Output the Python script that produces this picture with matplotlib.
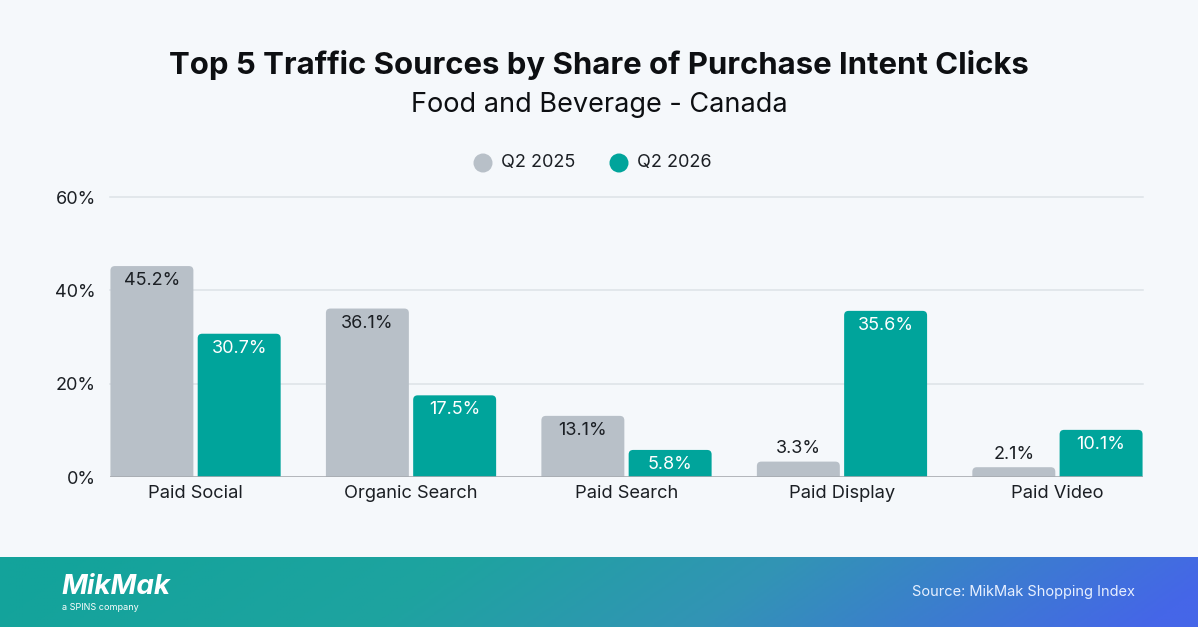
import matplotlib
matplotlib.use("Agg")
import matplotlib.pyplot as plt
import numpy as np
from matplotlib.patches import FancyBboxPatch, Circle
from matplotlib.colors import LinearSegmentedColormap

plt.rcParams['font.family'] = ['Inter', 'DejaVu Sans']

categories = ["Paid Social", "Organic Search", "Paid Search", "Paid Display", "Paid Video"]
q2_2025 = [45.2, 36.1, 13.1, 3.3, 2.1]
q2_2026 = [30.7, 17.5, 5.8, 35.6, 10.1]
series_names = ["Q2 2025", "Q2 2026"]
yticks = [0, 20, 40, 60]

BG = "#f5f8fb"
GRAY = "#b8c0c8"
TEAL = "#00a49b"
TXT = "#1b1f24"

W, H = 1198, 627
fig = plt.figure(figsize=(W/100, H/100), dpi=100, facecolor=BG)

ax = fig.add_axes([110/W, 150/H, (1143-110)/W, 280/H])
ax.set_facecolor(BG)
ax.set_xlim(-0.397, 4.397)
ax.set_ylim(0, 60)
for s in ax.spines.values():
    s.set_visible(False)
ax.axhline(0, color="#a7abb0", lw=1.2, zorder=4)
for t in yticks[1:]:
    ax.axhline(t, color="#dde2e7", lw=1.1, zorder=0, clip_on=False)
ax.set_yticks(yticks)
ax.set_yticklabels([f"{t}%" for t in yticks], fontsize=13, color=TXT)
ax.tick_params(axis='y', length=0, pad=10)
ax.set_xticks(range(len(categories)))
ax.set_xticklabels(categories, fontsize=13.2, color=TXT)
ax.tick_params(axis='x', length=0, pad=6)
for lbl in ax.get_yticklabels():
    lbl.set_horizontalalignment('right')

bw = 0.385
off = 0.2025
px_x = 215.5
px_y = 280 / 60.0
r = 4.5
for vals, sign, col, tcol in [(q2_2025, -1, GRAY, TXT), (q2_2026, 1, TEAL, "white")]:
    for i, v in enumerate(vals):
        x0 = i + sign * off - bw / 2
        p = FancyBboxPatch((x0, -3), bw, v + 3,
                           boxstyle=f"round,pad=0,rounding_size={r/px_x}",
                           mutation_aspect=(r/px_y)/(r/px_x),
                           fc=col, ec="none", zorder=2, clip_on=True)
        ax.add_patch(p)
        if v * px_y > 22:
            ax.annotate(f"{v}%", (i + sign * off, v), xytext=(0, -10.5),
                        textcoords="offset points", ha="center", va="center",
                        fontsize=13, color=tcol, zorder=5)
        else:
            ax.annotate(f"{v}%", (i + sign * off, v), xytext=(0, 9.5),
                        textcoords="offset points", ha="center", va="center",
                        fontsize=13, color=TXT, zorder=5)

# Titles
fig.text(0.5, 1 - 64.5/H, "Top 5 Traffic Sources by Share of Purchase Intent Clicks",
         ha="center", va="center", fontsize=22.4, fontweight="bold", color="#0d0f12")
fig.text(0.5, 1 - 105.5/H, "Food and Beverage - Canada",
         ha="center", va="center", fontsize=19.5, color="#0d0f12")

# Legend
lax = fig.add_axes([0, 0, 1, 1], facecolor="none")
lax.set_xlim(0, W)
lax.set_ylim(H, 0)
lax.axis("off")
for cx, col, name in [(483, GRAY, series_names[0]), (619, TEAL, series_names[1])]:
    lax.add_patch(Circle((cx, 163), 9.5, fc=col, ec="none"))
    lax.text(cx + 18, 163, name, ha="left", va="center", fontsize=13, color=TXT)

# Footer gradient
cmap = LinearSegmentedColormap.from_list("foot", [
    (0.0, "#13a39b"), (0.35, "#1ea3a0"), (0.62, "#3294b5"), (1.0, "#4566e8")])
xx = np.linspace(0, 1, 400)
yy = np.linspace(0, 1, 40)
X, Y = np.meshgrid(xx, yy)
G = np.clip(X + 0.08 * (Y - 0.5), 0, 1)
lax.imshow(G, cmap=cmap, extent=[0, W, 627, 557], aspect="auto", zorder=0,
           origin="upper", vmin=0, vmax=1)
lax.set_xlim(0, W)
lax.set_ylim(H, 0)
lax.text(61, 587, "MikMak", ha="left", va="center", fontsize=20, fontweight="bold",
         fontstyle="italic", color="white")
lax.text(62, 607, "a SPINS company", ha="left", va="center", fontsize=6.5, color="white")
lax.text(1135, 592, "Source: MikMak Shopping Index", ha="right", va="center",
         fontsize=10.5, color="#e8f0ff")

fig.savefig("out.png", dpi=100, facecolor=BG)
